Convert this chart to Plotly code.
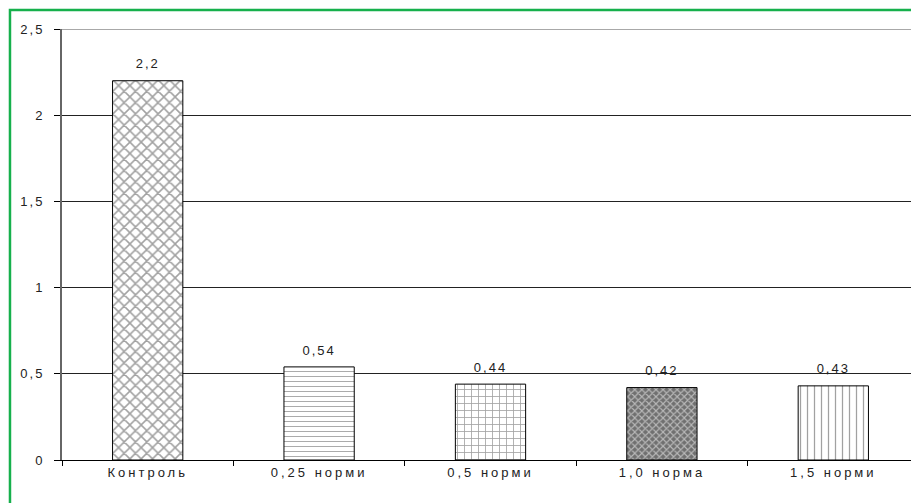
import plotly.graph_objects as go

categories = ["Контроль", "0,25 норми", "0,5 норми", "1,0 норма", "1,5 норми"]
values = [2.2, 0.54, 0.44, 0.42, 0.43]
value_labels = ["2,2", "0,54", "0,44", "0,42", "0,43"]
y_ticks = [0, 0.5, 1, 1.5, 2, 2.5]
y_ticktext = ["0", "0,5", "1", "1,5", "2", "2,5"]

pattern_shapes = ["x", "-", "+", "x", "|"]
pattern_fg = ["#000000", "#000000", "#000000", "#1a1a1a", "#000000"]
pattern_bg = ["#ffffff", "#ffffff", "#ffffff", "#707070", "#ffffff"]
pattern_size = [8, 5, 7, 5, 7]
pattern_solid = [0.35, 0.18, 0.22, 0.4, 0.18]

FONT = "Liberation Sans, Arial, sans-serif"


def spaced(s, px=2):
    return f"<span style='letter-spacing:{px}px'>{s}</span>"


fig = go.Figure()
fig.add_trace(go.Bar(
    x=categories,
    y=values,
    width=0.41,
    marker=dict(
        color=pattern_bg,
        line=dict(color="#000000", width=1),
        pattern=dict(shape=pattern_shapes, fgcolor=pattern_fg, bgcolor=pattern_bg,
                     size=pattern_size, solidity=pattern_solid, fillmode="overlay"),
    ),
    hoverinfo="x+y",
))
# value labels placed above bars
fig.add_trace(go.Scatter(
    x=categories,
    y=values,
    mode="markers+text",
    marker=dict(size=13, opacity=0),
    text=[spaced(t) for t in value_labels],
    textposition="top center",
    textfont=dict(family=FONT, size=13, color="#222222"),
    cliponaxis=False,
    hoverinfo="skip",
))

fig.update_layout(
    width=911, height=495,
    margin=dict(l=54, r=0, t=21, b=43),
    paper_bgcolor="white", plot_bgcolor="white",
    separators=", ",
    showlegend=False,
    font=dict(family=FONT, size=13, color="#222222"),
    xaxis=dict(
        type="category",
        tickmode="array",
        tickvals=categories,
        ticktext=[spaced(c, 3) for c in categories],
        tickson="boundaries",
        ticks="outside", ticklen=5, tickcolor="#000000",
        showline=True, linecolor="#000000", linewidth=1,
        showgrid=False,
        tickfont=dict(size=13, color="#222222"),
        range=[-0.5, 4.5],
    ),
    yaxis=dict(
        range=[0, 2.5],
        tickvals=y_ticks,
        ticktext=[spaced(t) for t in y_ticktext],
        ticks="outside", ticklen=6, tickcolor="#000000",
        ticklabelstandoff=7,
        showline=True, linecolor="#666666", linewidth=2,
        showgrid=True, gridcolor="#222222", gridwidth=1,
        zeroline=False,
        tickfont=dict(size=13, color="#222222"),
    ),
    shapes=[
        dict(type="line", xref="paper", yref="y", x0=0, x1=1, y0=2.5, y1=2.5,
             line=dict(color="#a8a8a8", width=2), layer="above"),
        dict(type="rect", xref="paper", yref="paper", x0=-0.0607, x1=1.1, y0=-0.3, y1=1.044,
             line=dict(color="#16b04c", width=2.5), fillcolor="rgba(0,0,0,0)", layer="above"),
    ],
)

fig.write_html("out.html")
